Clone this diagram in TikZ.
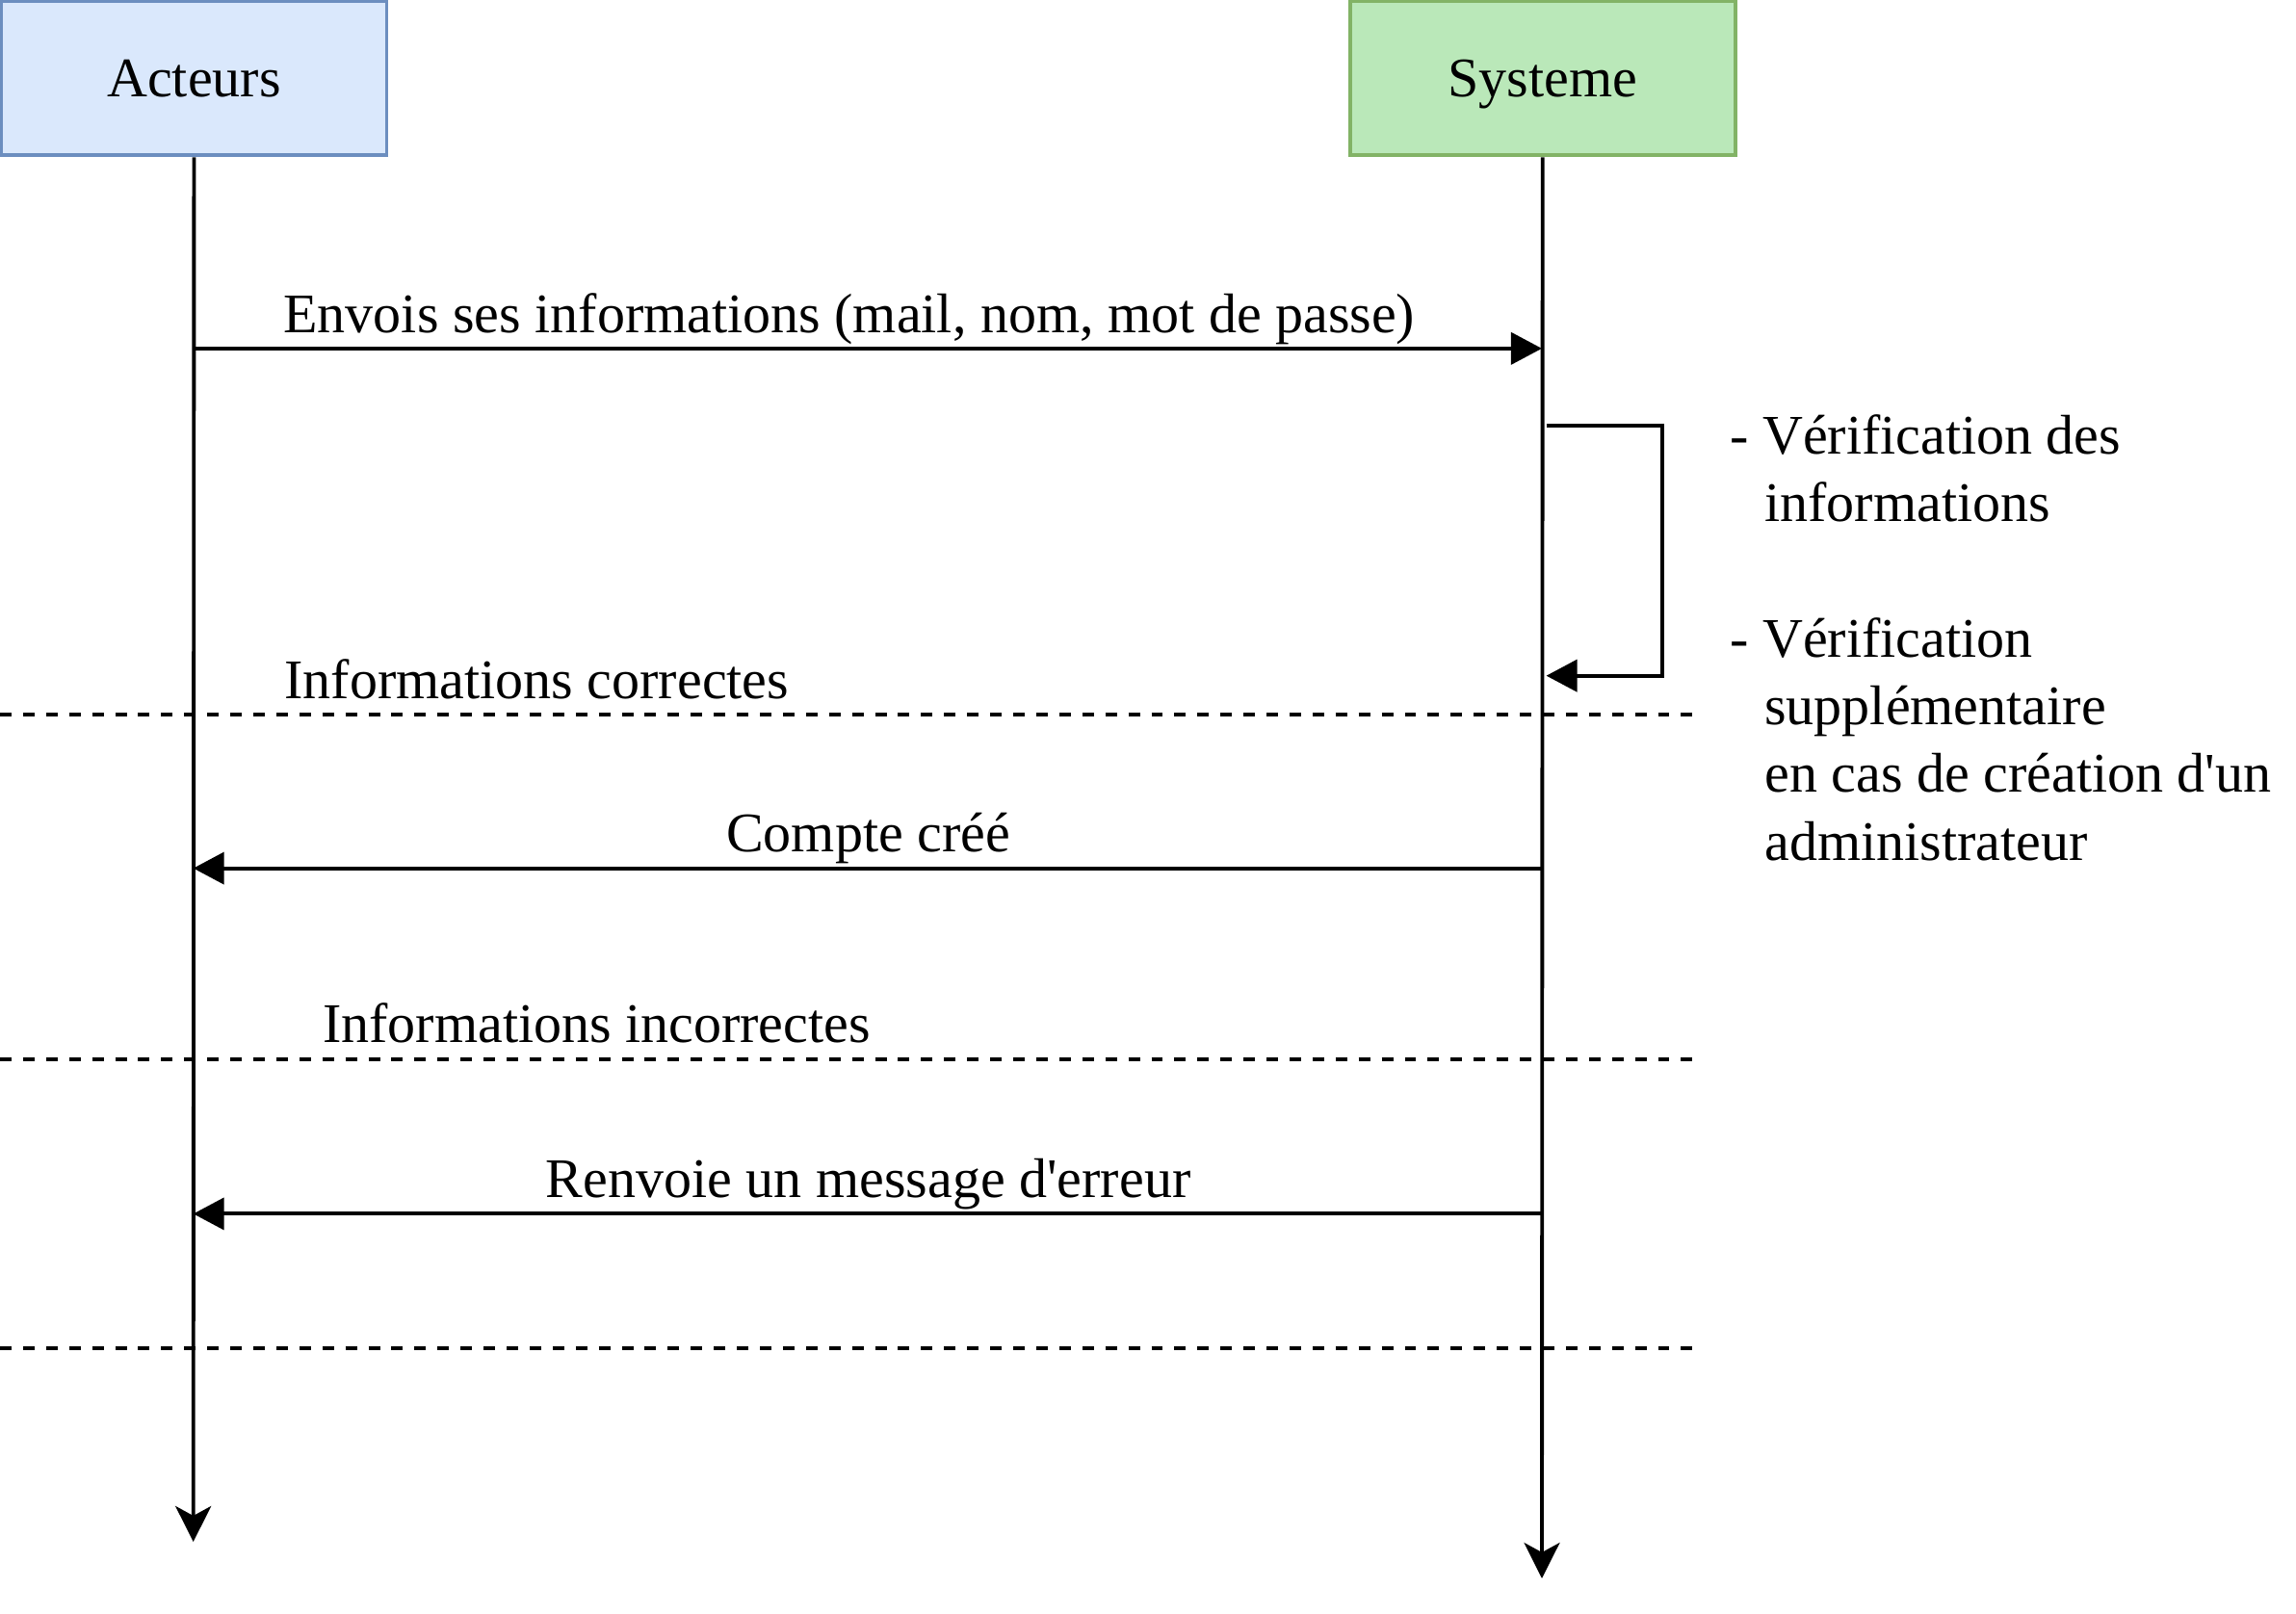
\documentclass[tikz,border=0pt]{standalone}
\usepackage{fontspec}
\setmainfont{Liberation Serif}[Ligatures=TeXOff]
\usepackage{xcolor}
\usepackage{tikz}
\usetikzlibrary{positioning, arrows.meta, calc}
\definecolor{actblue}{RGB}{218, 232, 252}
\definecolor{actedge}{RGB}{108, 142, 191}
\definecolor{sysgreen}{RGB}{186, 232, 185}
\definecolor{sysedge}{RGB}{130, 179, 102}
\tikzset{
  lifebox/.style={draw=#1, line width=1.1pt, minimum width=4.0cm,
                  minimum height=1.6cm, inner sep=0pt, text depth=0pt},
  lifeline/.style={line width=1.1pt, -{Stealth[length=3.7mm, width=3.7mm, inset=1mm]}},
  msg/.style={line width=1.1pt, -{Triangle[length=3.2mm, width=3.3mm]}},
  sep/.style={line width=1.1pt, dash pattern=on 3.4pt off 3.4pt},
  lbl/.style={inner sep=0pt, anchor=base},
}

\begin{document}
\begin{tikzpicture}[x=0.015204cm, y=-0.015204cm,
  every node/.style={font=\fontsize{16.5}{20}\selectfont}]
  \useasboundingbox (0,0) rectangle (1568,1102);

  % lifeline heads
  \node[lifebox=actedge, fill=actblue] (act) at (132.5,53.5) {Acteurs};
  \node[lifebox=sysedge, fill=sysgreen] (sys) at (1053.5,53.5) {Systeme};

  % lifelines
  \coordinate (actEnd) at (132,1053);
  \coordinate (sysEnd) at (1053,1078);
  \draw[lifeline] (act.south) -- (actEnd);
  \draw[lifeline] (sys.south) -- (sysEnd);

  % ---- request ----
  \coordinate (reqA) at (132,238);
  \coordinate (reqS) at (1053,238);
  \draw[msg] (reqA) -- (reqS);
  \node[lbl] (reqLbl) at (580,227)
    {Envois ses informations (mail, nom, mot de passe)};

  % ---- self check ----
  \coordinate (chkFrom) at (1056,290.5);
  \coordinate (chkTo) at (1056,461.5);
  \coordinate (chkTurn) at (1135,461.5);
  \draw[msg] (chkFrom) -| (chkTurn) -- (chkTo);
  % base of a multi-line node = its last line
  \node[inner sep=0pt, anchor=base west, align=left] (chkLbl) at (1181,587.5)
    {- Vérification des\\
     \hspace*{0.36cm}informations\\
     \mbox{}\\
     - Vérification\\
     \hspace*{0.36cm}supplémentaire\\
     \hspace*{0.36cm}en cas de création d'un\\
     \hspace*{0.36cm}administrateur};

  % ---- case: correct ----
  \coordinate (okL) at (0,488);
  \coordinate (okR) at (1160,488);
  \draw[sep] (okL) -- (okR);
  \node[lbl, anchor=base west] (okLbl) at (194,477) {Informations correctes};
  \coordinate (okS) at (1053,593);
  \coordinate (okA) at (132,593);
  \draw[msg] (okS) -- (okA);
  \node[lbl] (okMsg) at (593,582) {Compte créé};

  % ---- case: incorrect ----
  \coordinate (koL) at (0,723.5);
  \coordinate (koR) at (1160,723.5);
  \draw[sep] (koL) -- (koR);
  \node[lbl, anchor=base west] (koLbl) at (220,712) {Informations incorrectes};
  \coordinate (koS) at (1053,829);
  \coordinate (koA) at (132,829);
  \draw[msg] (koS) -- (koA);
  \node[lbl] (koMsg) at (593,818) {Renvoie un message d'erreur};

  % end of alternatives
  \coordinate (endL) at (0,921);
  \coordinate (endR) at (1160,921);
  \draw[sep] (endL) -- (endR);
\end{tikzpicture}
\end{document}
